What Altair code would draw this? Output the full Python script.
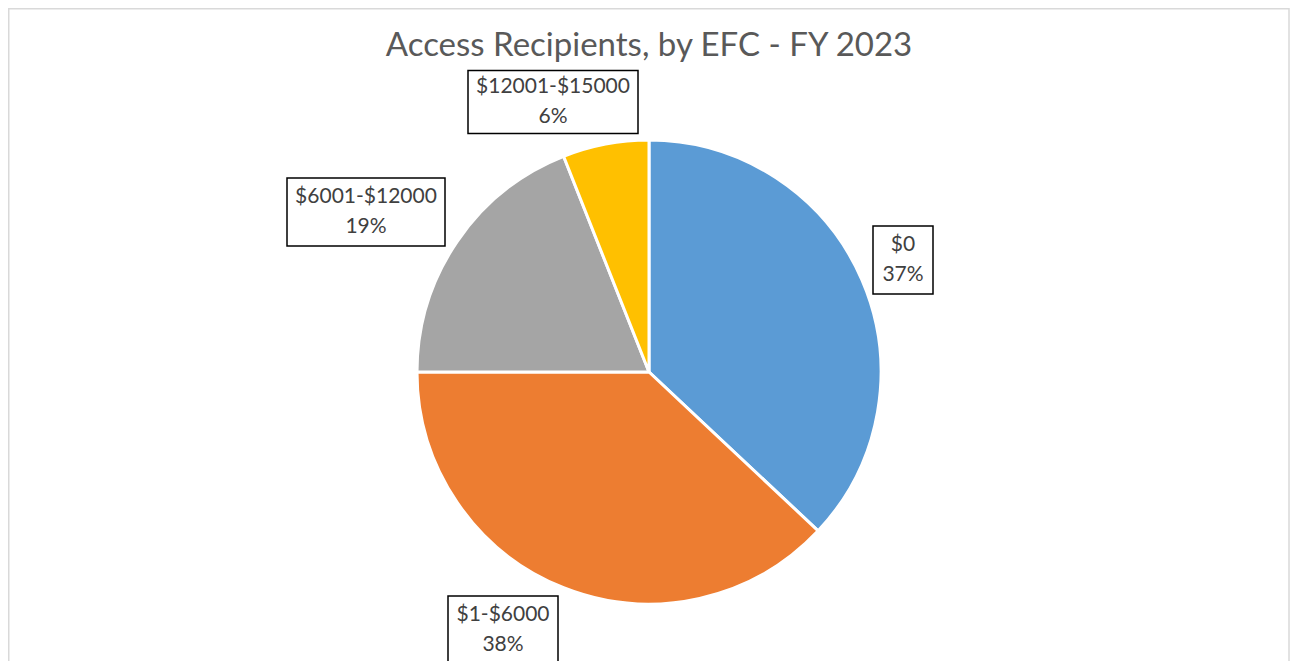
import altair as alt
import pandas as pd

# ---- data ----
categories = ["$0", "$1-$6000", "$6001-$12000", "$12001-$15000"]
percent = [37, 38, 19, 6]
colors = ["#5B9BD5", "#ED7D31", "#A5A5A5", "#FFC000"]
title_text = "Access Recipients, by EFC - FY 2023"

# ---- layout / style (pixels in chart space) ----
W, H = 1282, 653
CX, CY, R = 641, 364, 232
label_style = {  # box centre and size for each data label
    "$0": (895, 252, 60, 68),
    "$1-$6000": (495, 622, 110, 68),
    "$6001-$12000": (358, 204, 158, 68),
    "$12001-$15000": (545, 94, 170, 63),
}
LINE_GAP = 15
FONT = "Lato"

pie_df = pd.DataFrame({"category": categories, "value": percent,
                       "order": list(range(len(categories)))})

lab_rows = []
for c, p in zip(categories, percent):
    x, y, w, h = label_style[c]
    lab_rows.append({"category": c, "line1": c, "line2": f"{p}%", "x": x,
                     "ya": y - LINE_GAP, "yb": y + LINE_GAP,
                     "x1": x - w / 2, "x2": x + w / 2,
                     "y1": y - h / 2, "y2": y + h / 2})
lab_df = pd.DataFrame(lab_rows)

border = alt.Chart(pd.DataFrame({"a": [0]})).mark_rect(
    fill=None, stroke="#D9D9D9", strokeWidth=1.5
).encode(x=alt.value(0.75), x2=alt.value(W - 1), y=alt.value(0.75), y2=alt.value(H + 40))

pie = alt.Chart(pie_df).mark_arc(
    outerRadius=R, stroke="white", strokeWidth=3
).encode(
    theta=alt.Theta("value:Q", stack=True),
    color=alt.Color("category:N", scale=alt.Scale(domain=categories, range=colors), legend=None),
    order=alt.Order("order:Q"),
    x=alt.value(CX), y=alt.value(CY),
)

boxes = alt.Chart(lab_df).mark_rect(fill="white", stroke="black", strokeWidth=1.5).encode(
    x=alt.X("x1:Q", scale=None), x2="x2:Q",
    y=alt.Y("y1:Q", scale=None), y2="y2:Q",
)

text_style = dict(font=FONT, fontSize=21, color="#404040", align="center", baseline="middle")
labels1 = alt.Chart(lab_df).mark_text(**text_style).encode(
    x=alt.X("x:Q", scale=None), y=alt.Y("ya:Q", scale=None), text="line1:N"
)
labels2 = alt.Chart(lab_df).mark_text(**text_style).encode(
    x=alt.X("x:Q", scale=None), y=alt.Y("yb:Q", scale=None), text="line2:N"
)

title = alt.Chart(pd.DataFrame({"t": [title_text]})).mark_text(
    font=FONT, fontSize=33, color="#595959", align="center", baseline="middle"
).encode(x=alt.value(CX), y=alt.value(38), text="t:N")

chart = alt.layer(border, pie, boxes, labels1, labels2, title).properties(
    width=W, height=H, autosize=alt.AutoSizeParams(type="none"), padding=0
).configure_view(stroke=None)

chart.save("out.html", embed_options={"renderer": "svg", "actions": False})
